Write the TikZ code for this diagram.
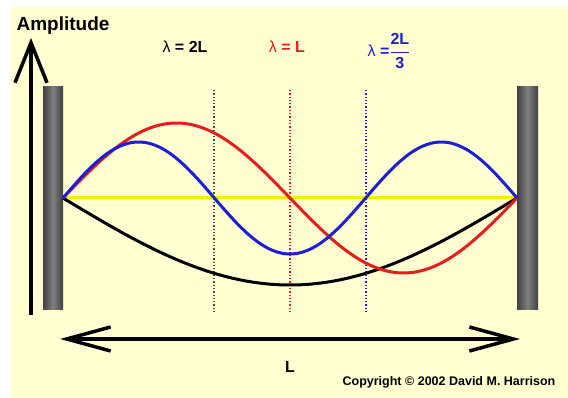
\documentclass[tikz,border=0pt]{standalone}
\usepackage{fontspec}
\setmainfont{Liberation Sans}
\usetikzlibrary{arrows.meta}
\definecolor{paper}{HTML}{FFFFD2}
\definecolor{wavered}{HTML}{E41E1E}
\definecolor{waveblue}{HTML}{1E1ED2}
\definecolor{stringyellow}{HTML}{F5F000}
\def\xleft{63}
\def\xright{517}
\def\yrest{198}
\tikzset{
  wall/.style={left color=black!75, right color=black!75, middle color=black!50},
  wave/.style={line width=3pt, smooth, samples=90},
  guide/.style={line width=1.3pt, dotted},
  bigarrow/.style={line width=3.5pt},
  barb/.tip={Straight Barb[length=40pt,width=32pt]},
  flatbarb/.tip={Straight Barb[length=44pt,width=24pt]},
  lambdatext/.style={font=\bfseries\fontsize{16}{18}\selectfont, inner sep=0pt},
}

\begin{document}
\begin{tikzpicture}[x=1pt,y=-1pt]
			%%%%% START %%%%%
			
			\fill[white] (0,0) rectangle (568,398);
			\fill[paper] (11,7) rectangle (568,398);
			\useasboundingbox (0,0) rectangle (568,398);
			
			\path[wall] (43,87) rectangle (63,310);
			\path[wall] (517,87) rectangle (538,310);
			
			\draw[guide, black!70] (214,90) -- (214,312);
			\draw[guide, wavered] (290,90) -- (290,312);
			\draw[guide, waveblue] (366,90) -- (366,312);
			
			\draw[line width=3pt, stringyellow] (\xleft,\yrest) -- (\xright,\yrest);
			
			\draw[wave, black] plot[domain=\xleft:\xright] (\x, {\yrest+87*sin(180*((\x-\xleft)/454))});
			\draw[wave, wavered] plot[domain=\xleft:\xright] (\x, {\yrest-75*sin(360*((\x-\xleft)/454))});
			\draw[wave, waveblue] plot[domain=\xleft:\xright] (\x, {\yrest-56*sin(540*((\x-\xleft)/454))});
			
			\coordinate (ampfoot) at (31,315);
			\coordinate (amptip) at (31,38);
			\draw[bigarrow, -barb] (ampfoot) -- (amptip);
			\node[font=\bfseries\fontsize{19}{21}\selectfont, inner sep=0pt] (amp) at (63,26) {Amplitude};
			
			\coordinate (lenleft) at (60,339);
			\coordinate (lenright) at (520,339);
			\draw[bigarrow, flatbarb-flatbarb] (lenleft) -- (lenright);
			\node[lambdatext] (lenlabel) at (290,367) {L};
			
			\node[lambdatext] (lamtwo) at (185,47) {\mdseries λ\bfseries\ = 2L};
			\node[lambdatext, text=wavered] (lamone) at (287,47) {\mdseries λ\bfseries\ = L};
			\node[lambdatext, text=waveblue] (lamthird) at (389,51) {\mdseries λ\bfseries\ =$\displaystyle\frac{\textbf{2L}}{\textbf{3}}$};
			
			\node[font=\bfseries\fontsize{12.5}{14}\selectfont, inner sep=0pt] (copy) at (449,382) {Copyright © 2002 David M. Harrison};
			
			%%%%% END %%%%%
\end{tikzpicture}
\end{document}
